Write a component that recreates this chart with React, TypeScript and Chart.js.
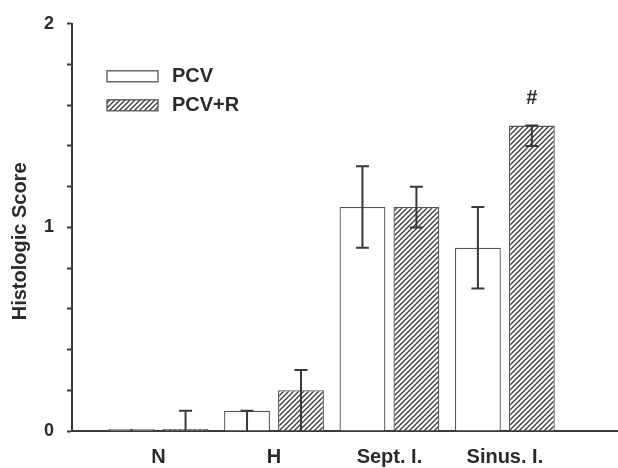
import React, { useEffect, useRef } from "react";
import { Chart, registerables } from "chart.js";

Chart.register(...registerables);

const categories = ["N", "H", "Sept. I.", "Sinus. I."];
const categoryPositions = [1, 2, 3, 4];
const seriesNames = ["PCV", "PCV+R"];
const pcvValues = [0.01, 0.1, 1.1, 0.9];
const pcvLow = [0.0, 0.0, 0.9, 0.7];
const pcvHigh = [0.01, 0.1, 1.3, 1.1];
const pcvrValues = [0.01, 0.2, 1.1, 1.5];
const pcvrLow = [0.0, 0.0, 1.0, 1.4];
const pcvrHigh = [0.1, 0.3, 1.2, 1.5];
const significance = ["", "", "", "#"];
const yTickValues = [0, 1, 2];
const yTitle = "Histologic Score";

const TEXT = "#2b2b2b";
const LINE = "#3a3a3a";
const FONT = "'Liberation Sans', Arial, sans-serif";

function makeHatch(): CanvasPattern | string {
  const c = document.createElement("canvas");
  const s = 5;
  c.width = s;
  c.height = s;
  const g = c.getContext("2d");
  if (!g) return "#ccc";
  g.fillStyle = "#ffffff";
  g.fillRect(0, 0, s, s);
  g.strokeStyle = "#3f3f3f";
  g.lineWidth = 1.4;
  g.beginPath();
  g.moveTo(-1, s + 1);
  g.lineTo(s + 1, -1);
  g.moveTo(-1, 1);
  g.lineTo(1, -1);
  g.moveTo(s - 1, s + 1);
  g.lineTo(s + 1, s - 1);
  g.stroke();
  const p = g.createPattern(c, "repeat");
  return p || "#ccc";
}

export default function App() {
  const ref = useRef<HTMLCanvasElement | null>(null);

  useEffect(() => {
    if (!ref.current) return;
    const hatch = makeHatch();
    const lows = [pcvLow, pcvrLow];
    const highs = [pcvHigh, pcvrHigh];

    const errorBars = {
      id: "errorBars",
      afterDatasetsDraw(chart: any) {
        const ctx = chart.ctx;
        const ys = chart.scales.y;
        ctx.save();
        ctx.strokeStyle = LINE;
        ctx.lineWidth = 2;
        chart.data.datasets.forEach((_ds: any, di: number) => {
          const meta = chart.getDatasetMeta(di);
          meta.data.forEach((el: any, i: number) => {
            const lo = lows[di][i];
            const hi = highs[di][i];
            const yl = ys.getPixelForValue(lo);
            const yh = ys.getPixelForValue(hi);
            const x = el.x;
            ctx.beginPath();
            ctx.moveTo(x, yl);
            ctx.lineTo(x, yh);
            const cw = 6.5;
            if (lo > 0) {
              ctx.moveTo(x - cw, yl);
              ctx.lineTo(x + cw, yl);
            }
            if (hi > 0.05) {
              ctx.moveTo(x - cw, yh);
              ctx.lineTo(x + cw, yh);
            }
            ctx.stroke();
            if (di === 1 && significance[i]) {
              ctx.fillStyle = TEXT;
              ctx.font = `bold 20px ${FONT}`;
              ctx.textAlign = "center";
              ctx.textBaseline = "middle";
              ctx.fillText(significance[i], x, yh - 27);
            }
          });
        });
        ctx.restore();
      },
    };

    const legendPlugin = {
      id: "customLegend",
      afterDraw(chart: any) {
        const ctx = chart.ctx;
        const area = chart.chartArea;
        ctx.save();
        const fills = ["#ffffff", hatch];
        seriesNames.forEach((name, i) => {
          const bx = area.left + 35;
          const by = area.top + 47 + i * 29;
          ctx.fillStyle = fills[i];
          ctx.fillRect(bx, by, 51, 11);
          ctx.strokeStyle = "#555";
          ctx.lineWidth = 1.3;
          ctx.strokeRect(bx, by, 51, 11);
          ctx.fillStyle = TEXT;
          ctx.font = `bold 20px ${FONT}`;
          ctx.textAlign = "left";
          ctx.textBaseline = "middle";
          ctx.fillText(name, bx + 65, by + 6);
        });
        // y-axis title
        ctx.save();
        ctx.translate(20, area.top + (area.bottom - area.top) / 2 + 14);
        ctx.rotate(-Math.PI / 2);
        ctx.fillStyle = TEXT;
        ctx.font = `bold 20px ${FONT}`;
        ctx.textAlign = "center";
        ctx.textBaseline = "middle";
        ctx.fillText(yTitle, 0, 0);
        ctx.restore();
        ctx.restore();
      },
    };

    const chart = new Chart(ref.current, {
      type: "bar",
      data: {
        datasets: [
          {
            label: seriesNames[0],
            data: categoryPositions.map((x, i) => ({ x, y: pcvValues[i] })),
            backgroundColor: "#ffffff",
            borderColor: "#555",
            borderWidth: 1.3,
            categoryPercentage: 0.935,
            barPercentage: 0.85,
          },
          {
            label: seriesNames[1],
            data: categoryPositions.map((x, i) => ({ x, y: pcvrValues[i] })),
            backgroundColor: hatch as any,
            borderColor: "#555",
            borderWidth: 1.3,
            categoryPercentage: 0.935,
            barPercentage: 0.85,
          },
        ],
      },
      options: {
        animation: false,
        responsive: true,
        maintainAspectRatio: false,
        layout: { padding: { top: 19, right: 0, left: 0, bottom: 0 } },
        plugins: {
          legend: { display: false },
          tooltip: { enabled: false },
        },
        scales: {
          x: {
            type: "linear",
            min: 0.25,
            max: 4.98,
            offset: false,
            grid: { display: false, drawTicks: false },
            border: { display: true, color: LINE, width: 2 },
            afterBuildTicks(scale: any) {
              scale.ticks = categoryPositions.map((v) => ({ value: v }));
            },
            afterFit(scale: any) {
              scale.height = 37;
            },
            ticks: {
              padding: 14,
              color: TEXT,
              font: { family: FONT, size: 20, weight: "bold" },
              maxRotation: 0,
              autoSkip: false,
              callback: (v: any) => {
                const idx = categoryPositions.indexOf(Number(v));
                return idx >= 0 ? categories[idx] : "";
              },
            },
          },
          y: {
            type: "linear",
            min: 0,
            max: 2,
            grid: {
              display: true,
              drawOnChartArea: false,
              drawTicks: true,
              tickLength: 5,
              tickWidth: 2,
              color: LINE,
            },
            border: { display: true, color: LINE, width: 2 },
            afterFit(scale: any) {
              scale.width = 72;
            },
            ticks: {
              stepSize: 0.2,
              padding: 13,
              color: TEXT,
              font: { family: FONT, size: 18, weight: "bold" },
              autoSkip: false,
              callback: (v: any) => {
                const n = Number(v);
                const m = yTickValues.find((t) => Math.abs(t - n) < 1e-6);
                return m !== undefined ? String(m) : "";
              },
            },
          },
        },
      },
      plugins: [errorBars, legendPlugin],
    });

    return () => chart.destroy();
  }, []);

  return (
    <div
      style={{
        position: "fixed",
        left: 0,
        top: 0,
        width: 618,
        height: 468,
        background: "#ffffff",
      }}
    >
      <canvas ref={ref} />
    </div>
  );
}
